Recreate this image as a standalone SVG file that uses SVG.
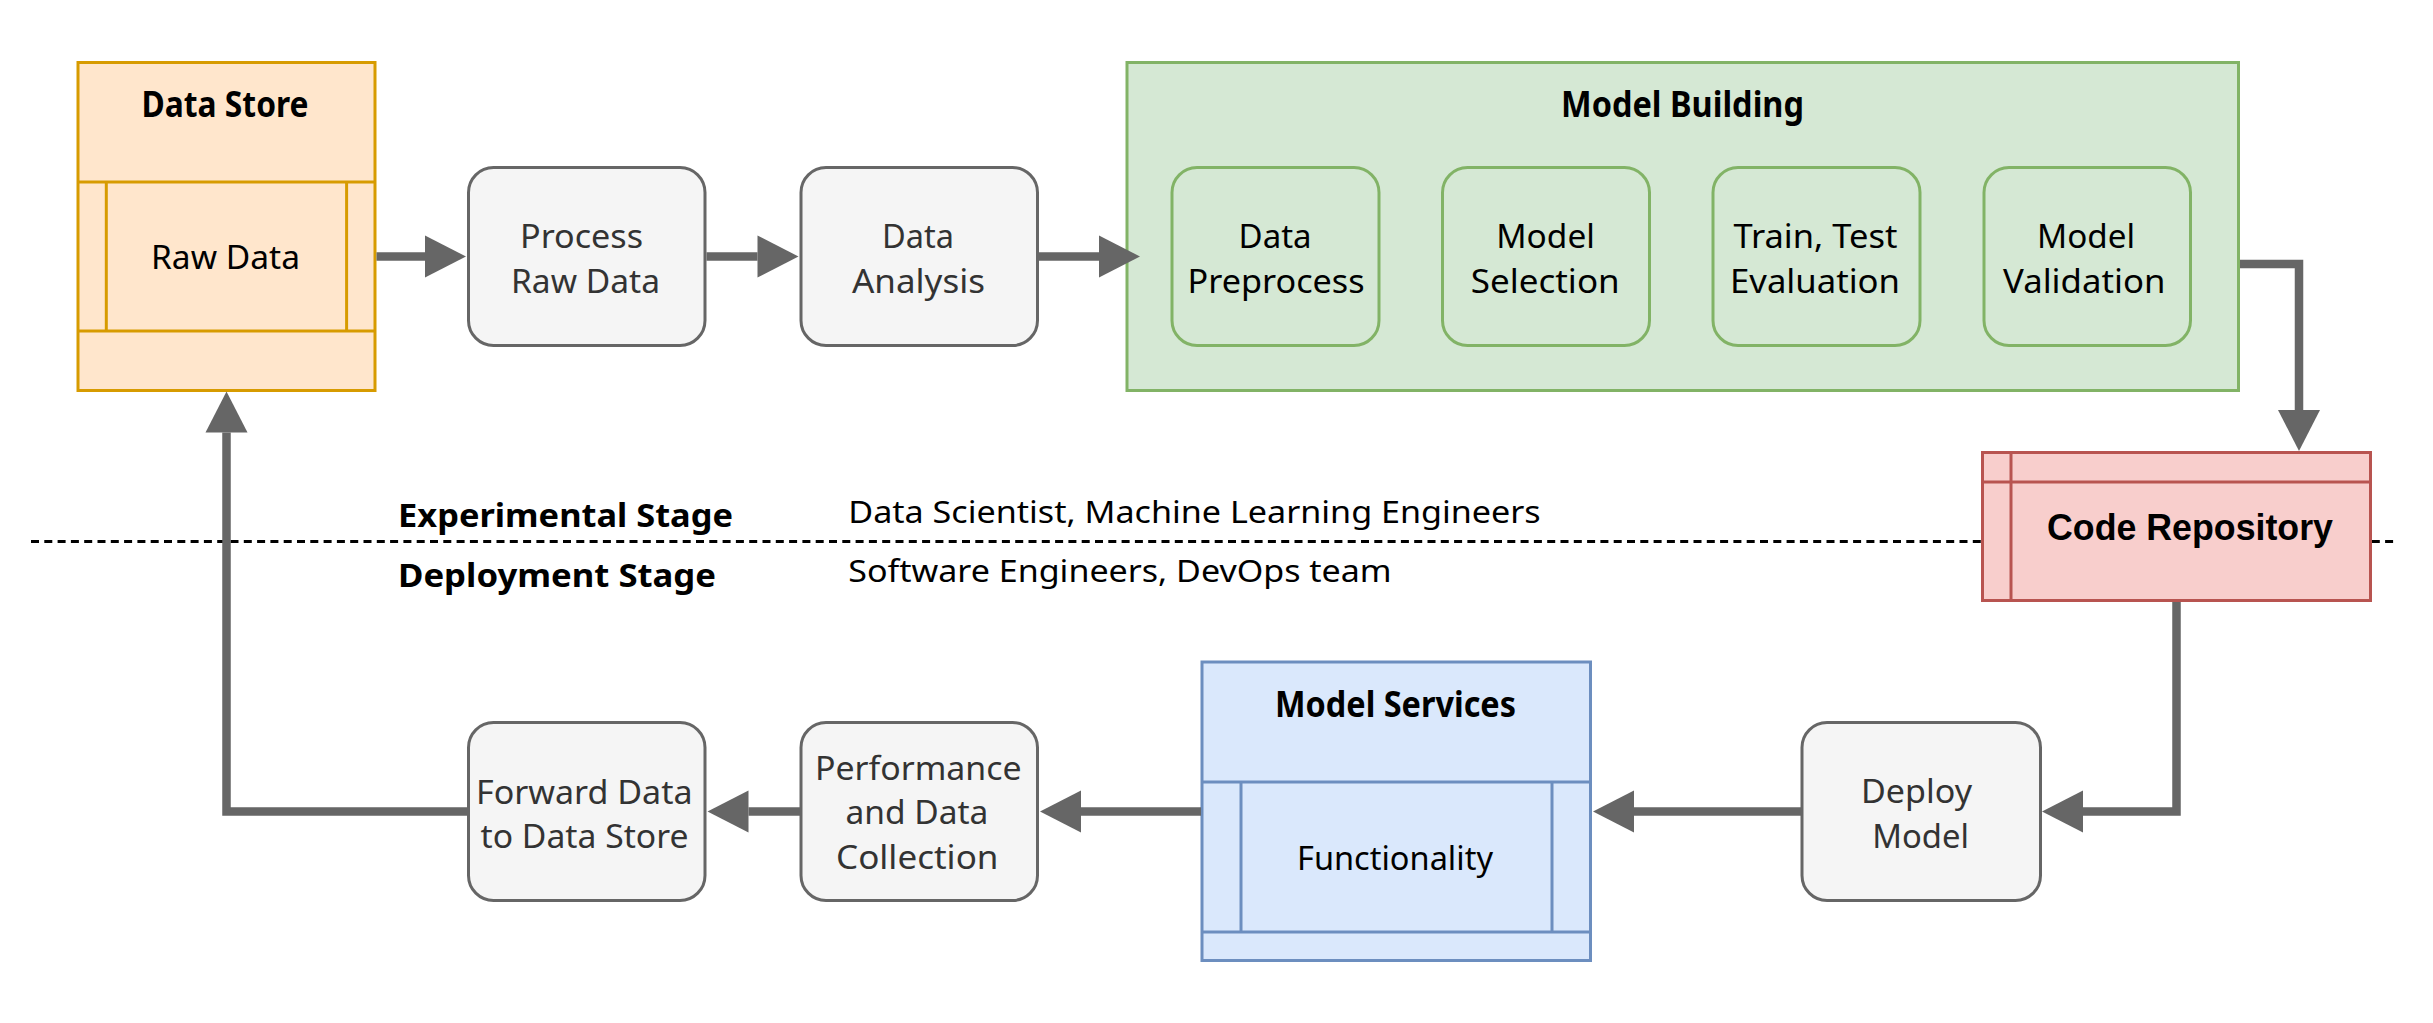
<svg xmlns="http://www.w3.org/2000/svg" width="2433" height="1023" viewBox="0 0 2433 1023">
<style>
.t{font-family:"Noto Sans","Open Sans","DejaVu Sans",sans-serif;font-size:33.5px;fill:#000}
.g{fill:#333333}
.b{font-weight:bold;font-size:35px}
.st{font-weight:bold;font-size:33px}
.r{font-size:30px}
.cr{font-family:"Liberation Sans",Arial,sans-serif;font-weight:bold;font-size:36px;fill:#000}
.gray{fill:#f5f5f5;stroke:#666666;stroke-width:3}
.grn{fill:#d5e8d4;stroke:#82b366;stroke-width:3}
.org{fill:#ffe6cc;stroke:#d79b00;stroke-width:3}
.red{fill:#f8cecc;stroke:#b85450;stroke-width:3}
.blu{fill:#dae8fc;stroke:#6c8ebf;stroke-width:3}
.conn{fill:none;stroke:#666666;stroke-width:8.5;stroke-linejoin:miter;marker-end:url(#ah)}
</style>
<defs>
<marker id="ah" markerUnits="userSpaceOnUse" markerWidth="41" markerHeight="42" refX="0" refY="21" orient="auto" overflow="visible">
<path d="M0,0 L41,21 L0,42 Z" fill="#666666"/>
</marker>
</defs>
<rect width="2433" height="1023" fill="#ffffff"/>

<g id="stage-divider">
<line x1="31" y1="541.5" x2="2398" y2="541.5" stroke="#000" stroke-width="3" stroke-dasharray="8 5.3"/>
<text class="t st" x="398" y="526.5" textLength="335" lengthAdjust="spacingAndGlyphs">Experimental Stage</text>
<text class="t st" x="398" y="587" textLength="318" lengthAdjust="spacingAndGlyphs">Deployment Stage</text>
<text class="t r" x="848.3" y="523" textLength="692.4" lengthAdjust="spacingAndGlyphs">Data Scientist, Machine Learning Engineers</text>
<text class="t r" x="848.3" y="581.7" textLength="543.4" lengthAdjust="spacingAndGlyphs">Software Engineers, DevOps team</text>
</g>

<g id="data-store">
<rect class="org" x="78" y="62.5" width="297" height="328"/>
<line x1="78" y1="182" x2="375" y2="182" stroke="#d79b00" stroke-width="3"/>
<line x1="78" y1="331" x2="375" y2="331" stroke="#d79b00" stroke-width="3"/>
<line x1="106.3" y1="182" x2="106.3" y2="331" stroke="#d79b00" stroke-width="3"/>
<line x1="346.6" y1="182" x2="346.6" y2="331" stroke="#d79b00" stroke-width="3"/>
<text class="t b" x="141.5" y="117" textLength="167" lengthAdjust="spacingAndGlyphs">Data Store</text>
<text class="t" x="151" y="269" textLength="149" lengthAdjust="spacingAndGlyphs">Raw Data</text>
</g>

<g id="process-raw-data">
<rect class="gray" x="468.5" y="167.5" width="236.5" height="178" rx="25"/>
<text class="t g" x="520" y="248" textLength="123" lengthAdjust="spacingAndGlyphs">Process</text>
<text class="t g" x="511" y="293" textLength="149" lengthAdjust="spacingAndGlyphs">Raw Data</text>
</g>

<g id="data-analysis">
<rect class="gray" x="801" y="167.5" width="236.5" height="178" rx="25"/>
<text class="t g" x="882" y="248" textLength="72" lengthAdjust="spacingAndGlyphs">Data</text>
<text class="t g" x="852" y="293" textLength="133" lengthAdjust="spacingAndGlyphs">Analysis</text>
</g>

<g id="model-building">
<rect class="grn" x="1127" y="62.5" width="1111.5" height="328"/>
<text class="t b" x="1561" y="117" textLength="243" lengthAdjust="spacingAndGlyphs">Model Building</text>
</g>

<g id="data-preprocess">
<rect class="grn" x="1172" y="167.5" width="207" height="178" rx="25"/>
<text class="t" x="1238.6" y="248" textLength="73" lengthAdjust="spacingAndGlyphs">Data</text>
<text class="t" x="1187.6" y="293" textLength="177" lengthAdjust="spacingAndGlyphs">Preprocess</text>
</g>

<g id="model-selection">
<rect class="grn" x="1442.5" y="167.5" width="207" height="178" rx="25"/>
<text class="t" x="1496.3" y="248" textLength="98.6" lengthAdjust="spacingAndGlyphs">Model</text>
<text class="t" x="1470.7" y="293" textLength="149" lengthAdjust="spacingAndGlyphs">Selection</text>
</g>

<g id="train-test-evaluation">
<rect class="grn" x="1713" y="167.5" width="207" height="178" rx="25"/>
<text class="t" x="1733.5" y="248" textLength="164" lengthAdjust="spacingAndGlyphs">Train, Test</text>
<text class="t" x="1730" y="293" textLength="170" lengthAdjust="spacingAndGlyphs">Evaluation</text>
</g>

<g id="model-validation">
<rect class="grn" x="1984" y="167.5" width="206.5" height="178" rx="25"/>
<text class="t" x="2037" y="248" textLength="98" lengthAdjust="spacingAndGlyphs">Model</text>
<text class="t" x="2003" y="293" textLength="162.5" lengthAdjust="spacingAndGlyphs">Validation</text>
</g>

<g id="code-repository">
<rect class="red" x="1982.5" y="452.5" width="388" height="148"/>
<line x1="1982.5" y1="482" x2="2370.5" y2="482" stroke="#b85450" stroke-width="3"/>
<line x1="2011" y1="452.5" x2="2011" y2="600.5" stroke="#b85450" stroke-width="3"/>
<text class="cr" x="2047" y="540" textLength="286" lengthAdjust="spacingAndGlyphs">Code Repository</text>
</g>

<g id="deploy-model">
<rect class="gray" x="1802" y="722.5" width="238.5" height="178" rx="25"/>
<text class="t g" x="1861" y="803" textLength="111" lengthAdjust="spacingAndGlyphs">Deploy</text>
<text class="t g" x="1872.3" y="848" textLength="96.7" lengthAdjust="spacingAndGlyphs">Model</text>
</g>

<g id="model-services">
<rect class="blu" x="1202" y="662" width="388.5" height="298.5"/>
<line x1="1202" y1="782" x2="1590.5" y2="782" stroke="#6c8ebf" stroke-width="3"/>
<line x1="1202" y1="932" x2="1590.5" y2="932" stroke="#6c8ebf" stroke-width="3"/>
<line x1="1241" y1="782" x2="1241" y2="932" stroke="#6c8ebf" stroke-width="3"/>
<line x1="1552" y1="782" x2="1552" y2="932" stroke="#6c8ebf" stroke-width="3"/>
<text class="t b" x="1275" y="717" textLength="241" lengthAdjust="spacingAndGlyphs">Model Services</text>
<text class="t" x="1297" y="870" textLength="196" lengthAdjust="spacingAndGlyphs">Functionality</text>
</g>

<g id="performance-data-collection">
<rect class="gray" x="801" y="722.5" width="236.5" height="178" rx="25"/>
<text class="t g" x="815" y="779.6" textLength="206.6" lengthAdjust="spacingAndGlyphs">Performance</text>
<text class="t g" x="845.4" y="824" textLength="143" lengthAdjust="spacingAndGlyphs">and Data</text>
<text class="t g" x="836" y="869" textLength="162.5" lengthAdjust="spacingAndGlyphs">Collection</text>
</g>

<g id="forward-data">
<rect class="gray" x="468.5" y="722.5" width="236.5" height="178" rx="25"/>
<text class="t g" x="476" y="803.5" textLength="216.5" lengthAdjust="spacingAndGlyphs">Forward Data</text>
<text class="t g" x="480.5" y="848" textLength="208" lengthAdjust="spacingAndGlyphs">to Data Store</text>
</g>

<g id="connectors">
<path class="conn" d="M376.5,256.5 H425"/>
<path class="conn" d="M706.5,256.5 H757.5"/>
<path class="conn" d="M1039,256.5 H1099"/>
<path class="conn" d="M2240,264 H2299 V410"/>
<path class="conn" d="M2176.5,602 V811.5 H2083"/>
<path class="conn" d="M1801,811.5 H1634"/>
<path class="conn" d="M1201,811.5 H1081"/>
<path class="conn" d="M800,811.5 H748.5"/>
<path class="conn" d="M467,811.5 H226.5 V432.5"/>
</g>
</svg>
